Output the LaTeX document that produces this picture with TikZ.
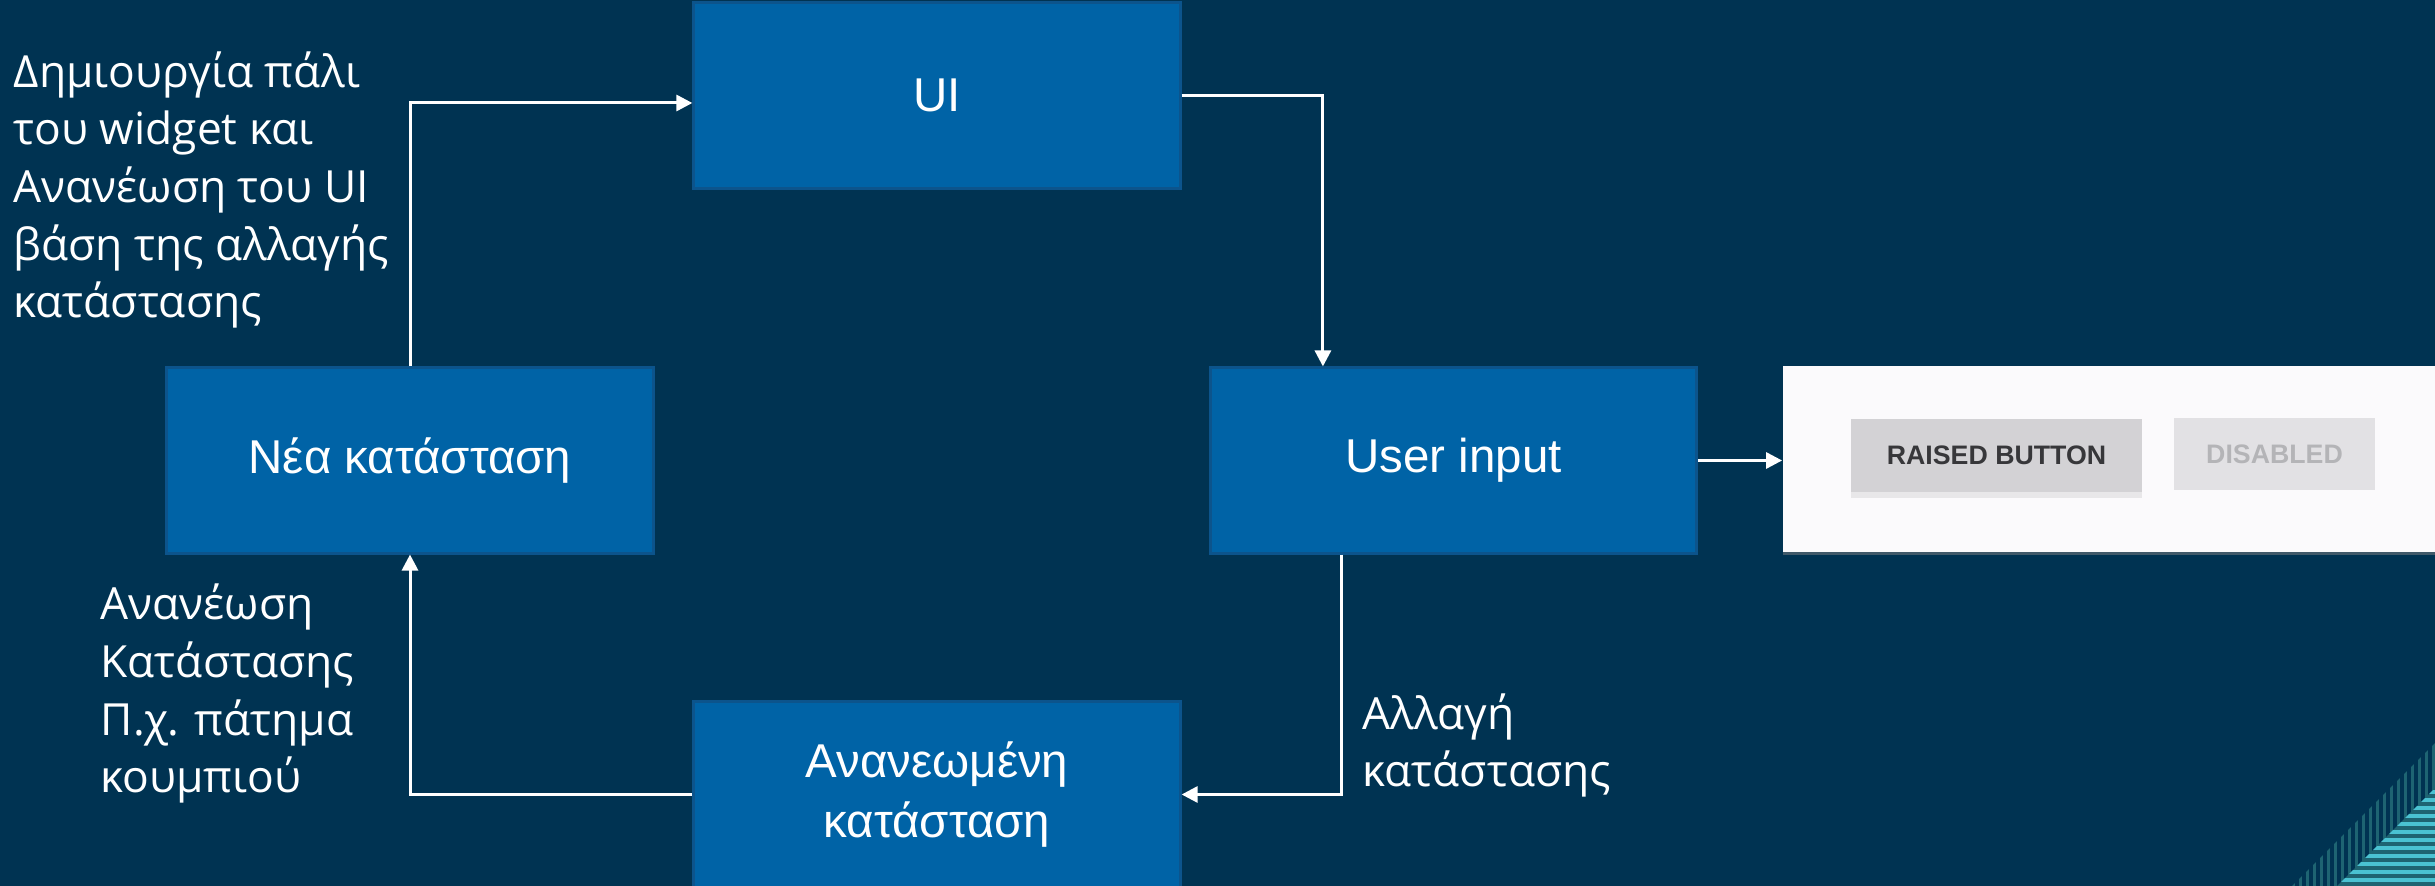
\documentclass[tikz,border=0pt]{standalone}
\usepackage{fontspec}
\setmainfont{Liberation Sans}
\newfontfamily\notefont{Open Sans}
\usetikzlibrary{arrows.meta,shadows}
\definecolor{bgnavy}{RGB}{0,51,82}
\definecolor{boxblue}{RGB}{0,99,166}
\definecolor{boxedge}{RGB}{12,84,140}
\definecolor{stripeteal}{RGB}{30,100,114}
\definecolor{stripecyan}{RGB}{74,194,210}
\definecolor{panelwhite}{RGB}{251,250,252}
\definecolor{btngray}{RGB}{211,210,213}
\definecolor{btnlight}{RGB}{226,225,228}
\tikzset{
  statebox/.style={draw=boxedge,line width=0.3mm,fill=boxblue,text=white,minimum width=4.86cm,minimum height=1.85cm,align=center,font=\fontsize{13.5}{16.8}\selectfont},
  note/.style={anchor=base west,align=left,text=white,inner sep=0pt,font=\notefont\fontsize{12.6}{16.4}\selectfont},
  flow/.style={draw=white,line width=0.3mm,-{Triangle[length=1.6mm,width=1.6mm]}},
  button/.style={minimum height=0.72cm,inner sep=0pt,font=\bfseries\fontsize{7.6}{9}\selectfont}
}
\begin{document}
\begin{tikzpicture}[x=0.01cm,y=-0.01cm]
\fill[bgnavy] (0,0) rectangle (2435,886);
\useasboundingbox (0,0) rectangle (2435,886);
% corner stripes
\begin{scope}
\clip (2292,886) -- (2435,743) -- (2435,886) -- cycle;
\foreach \x in {2292,2299,...,2435} \fill[stripeteal] (\x,743) rectangle (\x+3,886);
\end{scope}
\begin{scope}
\clip (2337,886) -- (2435,788) -- (2435,886) -- cycle;
\fill[stripeteal] (2337,788) rectangle (2435,886);
\foreach \y in {790,798,...,886} \fill[stripecyan] (2337,\y) rectangle (2435,\y+4);
\end{scope}
\node[statebox] (ui) at (937,95.5) {UI};
\node[statebox] (input) at (1453.5,460.5) {User input};
\node[statebox] (newstate) at (410,460.5) {Νέα κατάσταση};
\node[statebox] (updated) at (937,794.5) {Ανανεωμένη\\κατάσταση};
% button screenshot
\node[fill=panelwhite,minimum width=6.52cm,minimum height=1.86cm,inner sep=0pt,drop shadow={shadow xshift=0mm,shadow yshift=-0.3mm,opacity=0.5}] (panel) at (2109,459) {};
\node[button,fill=btngray,minimum width=2.91cm,text={rgb,255:red,55;green,55;blue,58},drop shadow={shadow xshift=0mm,shadow yshift=-0.6mm,opacity=0.15}] (raised) at (1996.5,455.5) {RAISED BUTTON};
\node[button,fill=btnlight,minimum width=2.01cm,text={rgb,255:red,180;green,180;blue,183}] (disabled) at (2274.5,454) {DISABLED};
\draw[flow] (ui.east) -| ([xshift=-1.305cm]input.north);
\draw[flow] ([xshift=-1.115cm]input.south) |- (updated.east);
\draw[flow] (updated.west) -| (newstate.south);
\draw[flow] (newstate.north) |- ([yshift=-0.75mm]ui.west);
\draw[flow] (input.east) -- (input.east -| panel.west);
\node[note] (redraw) at (13,318) {Δημιουργία πάλι\\του widget και\\Ανανέωση του UI\\βάση της αλλαγής\\κατάστασης};
\node[note] (refresh) at (100,793) {Ανανέωση\\Κατάστασης\\Π.χ. πάτημα\\κουμπιού};
\node[note] (change) at (1362,787) {Αλλαγή\\κατάστασης};
\end{tikzpicture}
\end{document}
